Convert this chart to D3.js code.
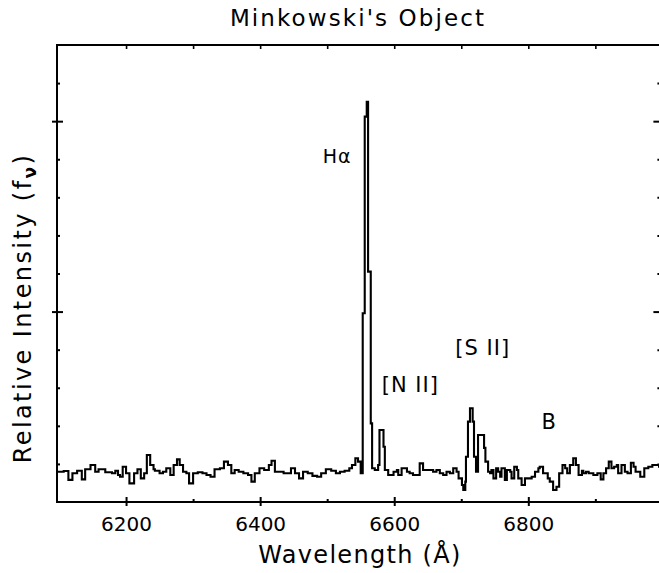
<!DOCTYPE html>
<html>
<head>
<meta charset="utf-8">
<script src="https://cdn.jsdelivr.net/npm/d3@7"></script>
<style>
  body { margin: 0; background: #fff; }
  svg { display: block; }
  text { font-family: "DejaVu Sans", sans-serif; fill: #000; }
</style>
</head>
<body>
<svg width="659" height="573"></svg>
<script>
// Spectrum: wavelength (Å) and relative intensity f_nu
const wavelength = [
  6097, 6102, 6107, 6114, 6120, 6127, 6134, 6139, 6147, 6154, 6159, 6169, 6179, 6184, 6188, 6191,
  6195, 6200, 6205, 6212, 6217, 6222, 6227, 6231, 6236, 6241, 6243, 6250, 6255, 6260, 6266, 6271,
  6276, 6280, 6285, 6290, 6294, 6300, 6307, 6314, 6320, 6326, 6332, 6340, 6346, 6352, 6357, 6362,
  6368, 6375, 6382, 6387, 6392, 6399, 6406, 6413, 6417, 6422, 6429, 6435, 6440, 6446, 6452, 6458,
  6464, 6471, 6478, 6485, 6491, 6498, 6506, 6513, 6519, 6526, 6533, 6537, 6542, 6546, 6550, 6553,
  6556, 6559, 6561, 6565, 6567, 6571, 6576, 6578, 6584, 6586, 6591, 6596, 6599, 6604, 6606, 6611,
  6616, 6619, 6623, 6628, 6634, 6638, 6643, 6650, 6658, 6663, 6668, 6673, 6678, 6683, 6688, 6693,
  6696, 6701, 6703, 6706, 6707, 6710, 6713, 6717, 6719, 6722, 6725, 6731, 6734, 6736, 6740, 6743,
  6745, 6748, 6752, 6755, 6758, 6760, 6765, 6768, 6773, 6775, 6779, 6783, 6785, 6790, 6795, 6800,
  6805, 6810, 6815, 6817, 6822, 6829, 6832, 6837, 6842, 6846, 6851, 6855, 6858, 6862, 6867, 6871,
  6875, 6880, 6882, 6886, 6890, 6897, 6903, 6908, 6912, 6916, 6920, 6924, 6928, 6932, 6934, 6939,
  6944, 6948, 6953, 6957, 6960, 6967, 6973, 6979, 6985, 6992, 6995, 7000
];
const flux = [
  0.159, 0.159, 0.163, 0.116, 0.151, 0.164, 0.119, 0.172, 0.194, 0.159, 0.172, 0.156, 0.151, 0.164, 0.142, 0.133,
  0.185, 0.151, 0.098, 0.151, 0.172, 0.124, 0.151, 0.247, 0.194, 0.172, 0.164, 0.151, 0.159, 0.177, 0.142, 0.194,
  0.224, 0.194, 0.159, 0.151, 0.098, 0.151, 0.156, 0.151, 0.142, 0.133, 0.172, 0.177, 0.212, 0.194, 0.151, 0.168,
  0.159, 0.151, 0.142, 0.107, 0.151, 0.177, 0.168, 0.194, 0.217, 0.159, 0.159, 0.151, 0.151, 0.177, 0.151, 0.124,
  0.159, 0.151, 0.137, 0.133, 0.151, 0.172, 0.164, 0.151, 0.159, 0.164, 0.177, 0.194, 0.230, 0.212, 0.151, 0.991,
  2.024, 2.102, 1.210, 0.413, 0.177, 0.168, 0.194, 0.378, 0.290, 0.168, 0.142, 0.142, 0.159, 0.168, 0.142, 0.177,
  0.177, 0.159, 0.151, 0.142, 0.142, 0.203, 0.168, 0.168, 0.159, 0.168, 0.151, 0.142, 0.159, 0.151, 0.177, 0.159,
  0.124, 0.089, 0.063, 0.107, 0.238, 0.422, 0.492, 0.422, 0.238, 0.159, 0.352, 0.352, 0.284, 0.212, 0.159, 0.151,
  0.168, 0.124, 0.177, 0.159, 0.133, 0.177, 0.116, 0.168, 0.159, 0.124, 0.185, 0.168, 0.124, 0.089, 0.124, 0.124,
  0.133, 0.159, 0.177, 0.185, 0.151, 0.124, 0.107, 0.063, 0.080, 0.151, 0.194, 0.177, 0.151, 0.194, 0.230, 0.194,
  0.142, 0.164, 0.151, 0.159, 0.151, 0.142, 0.151, 0.119, 0.151, 0.177, 0.212, 0.177, 0.185, 0.194, 0.151, 0.194,
  0.159, 0.151, 0.206, 0.185, 0.159, 0.133, 0.177, 0.185, 0.194, 0.194, 0.185, 0.185
];

// Ticks
const xMajorTicks = [6200, 6400, 6600, 6800];
const xMinorTicks = [6300, 6500, 6700, 6900];
const yMajorTicks = [1, 2];
const yMinorTicks = [0.2, 0.4, 0.6, 0.8, 1.2, 1.4, 1.6, 1.8, 2.2];

// Line annotations
const lineNames = ["H\u03b1", "[N II]", "[S II]", "B"];
const lineWave = [6515, 6624, 6732, 6831];
const lineLevel = [1.78, 0.58, 0.77, 0.385];

const svg = d3.select("svg");

// Plot box (right edge runs just past the picture)
const box = { left: 57, right: 662.4, top: 45, bottom: 502 };

const x = d3.scaleLinear().domain([6097, 7000]).range([box.left, box.right]);
const y = d3.scaleLinear().domain([0, 2.4]).range([box.bottom, box.top]);

const data = wavelength.map((w, i) => ({ w: w, f: flux[i] }));

svg.append("clipPath").attr("id", "plot")
  .append("rect")
  .attr("x", box.left).attr("y", box.top)
  .attr("width", box.right - box.left).attr("height", box.bottom - box.top);

// spectrum as a step line
const line = d3.line()
  .curve(d3.curveStepAfter)
  .x(d => x(d.w))
  .y(d => y(d.f));

svg.append("path")
  .datum(data)
  .attr("clip-path", "url(#plot)")
  .attr("fill", "none")
  .attr("stroke", "#000")
  .attr("stroke-width", 2.1)
  .attr("d", line);

// helper: strip domain and style tick lines
function ticksOnly(g, width) {
  g.select(".domain").remove();
  g.selectAll(".tick line").attr("stroke", "#000").attr("stroke-width", width);
}

// bottom axis: labelled majors, crossing the axis line
svg.append("g")
  .attr("transform", `translate(0,${box.bottom})`)
  .call(d3.axisBottom(x).tickValues(xMajorTicks).tickSize(4).tickPadding(11).tickFormat(d3.format("d")))
  .call(g => ticksOnly(g, 2))
  .call(g => g.selectAll("text").attr("font-size", 20).attr("font-family", "DejaVu Sans"));

svg.append("g")
  .attr("transform", `translate(0,${box.bottom})`)
  .call(d3.axisBottom(x).tickValues(xMajorTicks).tickSize(-5).tickFormat(""))
  .call(g => ticksOnly(g, 2));

svg.append("g")
  .attr("transform", `translate(0,${box.bottom})`)
  .call(d3.axisBottom(x).tickValues(xMinorTicks).tickSize(-3).tickFormat(""))
  .call(g => ticksOnly(g, 2));

// top axis: inward ticks every 100 A
svg.append("g")
  .attr("transform", `translate(0,${box.top})`)
  .call(d3.axisTop(x).tickValues(xMajorTicks.concat(xMinorTicks)).tickSize(-4).tickFormat(""))
  .call(g => ticksOnly(g, 1.6));

// left axis: majors cross, minors inward
svg.append("g")
  .attr("transform", `translate(${box.left},0)`)
  .call(d3.axisLeft(y).tickValues(yMajorTicks).tickSize(5).tickFormat(""))
  .call(g => ticksOnly(g, 2));

svg.append("g")
  .attr("transform", `translate(${box.left},0)`)
  .call(d3.axisLeft(y).tickValues(yMajorTicks).tickSize(-6).tickFormat(""))
  .call(g => ticksOnly(g, 2));

svg.append("g")
  .attr("transform", `translate(${box.left},0)`)
  .call(d3.axisLeft(y).tickValues(yMinorTicks).tickSize(-3).tickFormat(""))
  .call(g => ticksOnly(g, 2));

// right axis: inward ticks
svg.append("g")
  .attr("transform", `translate(${box.right},0)`)
  .call(d3.axisRight(y).tickValues(yMajorTicks).tickSize(-9).tickFormat(""))
  .call(g => ticksOnly(g, 2));

svg.append("g")
  .attr("transform", `translate(${box.right},0)`)
  .call(d3.axisRight(y).tickValues(yMinorTicks).tickSize(-5).tickFormat(""))
  .call(g => ticksOnly(g, 2));

// frame
svg.append("rect")
  .attr("x", box.left).attr("y", box.top)
  .attr("width", box.right - box.left).attr("height", box.bottom - box.top)
  .attr("fill", "none")
  .attr("stroke", "#000")
  .attr("stroke-width", 2);

// line labels
svg.append("g")
  .selectAll("text")
  .data(lineNames)
  .join("text")
  .attr("x", (d, i) => x(lineWave[i]))
  .attr("y", (d, i) => y(lineLevel[i]))
  .attr("text-anchor", "middle")
  .attr("font-size", (d, i) => i === 0 ? 19 : 21)
  .attr("letter-spacing", 1)
  .text(d => d);

// title
svg.append("text")
  .attr("x", 358)
  .attr("y", 26)
  .attr("text-anchor", "middle")
  .attr("font-size", 23)
  .attr("letter-spacing", 2.1)
  .text("Minkowski's Object");

// x axis title
svg.append("text")
  .attr("x", 360)
  .attr("y", 563)
  .attr("text-anchor", "middle")
  .attr("font-size", 24)
  .attr("letter-spacing", 1.3)
  .text("Wavelength (\u00c5)");

// y axis title with subscript nu
const yTitle = svg.append("text")
  .attr("transform", "translate(31,308) rotate(-90)")
  .attr("text-anchor", "middle")
  .attr("font-size", 24)
  .attr("letter-spacing", 2.4);
yTitle.append("tspan").text("Relative Intensity (f");
yTitle.append("tspan").attr("font-size", 17).attr("font-weight", "bold").attr("dy", 5).text("\u03bd");
yTitle.append("tspan").attr("dy", -5).text(")");
</script>
</body>
</html>
